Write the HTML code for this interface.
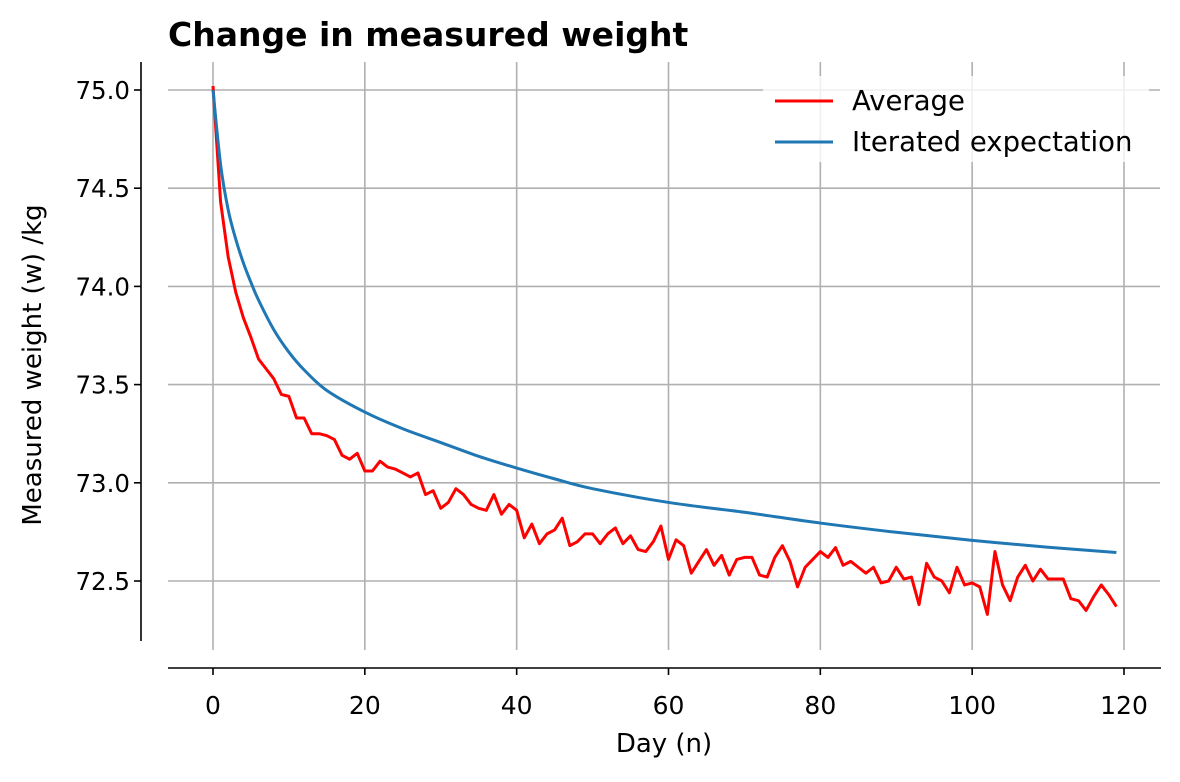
<!DOCTYPE html>
<html><head><meta charset="utf-8"><style>
body{margin:0;background:#fff;font-family:"Liberation Sans","DejaVu Sans",sans-serif}
svg text{font-family:"DejaVu Sans","Liberation Sans",sans-serif}
</style></head><body>
<svg id="chart" width="1180" height="777" viewBox="0 0 1180 777">
<text x="168" y="46" font-size="33" font-weight="bold">Change in measured weight</text>
<g id="grid"></g><g id="axes"></g><g id="series"></g>
<g>
<rect x="763" y="76" width="386" height="86" fill="#fff" opacity="0.8"/>
<line x1="775" y1="101" x2="833" y2="101" stroke="#ff0000" stroke-width="3"/>
<text x="852" y="110" font-size="27.5">Average</text>
<line x1="775" y1="142" x2="833" y2="142" stroke="#1f77b4" stroke-width="3"/>
<text x="852" y="151" font-size="27.5">Iterated expectation</text>
</g>
<text x="664" y="752" font-size="26" text-anchor="middle">Day (n)</text>
<text transform="translate(41,365) rotate(-90)" font-size="26" text-anchor="middle">Measured weight (w) /kg</text>
</svg>
<script>
const averageValues=[75.02,74.43,74.15,73.97,73.84,73.74,73.63,73.58,73.53,73.45,73.44,73.33,73.33,73.25,73.25,73.24,73.22,73.14,73.12,73.15,73.06,73.06,73.11,73.08,73.07,73.05,73.03,73.05,72.94,72.96,72.87,72.90,72.97,72.94,72.89,72.87,72.86,72.94,72.84,72.89,72.86,72.72,72.79,72.69,72.74,72.76,72.82,72.68,72.70,72.74,72.74,72.69,72.74,72.77,72.69,72.73,72.66,72.65,72.70,72.78,72.61,72.71,72.68,72.54,72.60,72.66,72.58,72.63,72.53,72.61,72.62,72.62,72.53,72.52,72.62,72.68,72.60,72.47,72.57,72.61,72.65,72.62,72.67,72.58,72.60,72.57,72.54,72.57,72.49,72.50,72.57,72.51,72.52,72.38,72.59,72.52,72.50,72.44,72.57,72.48,72.49,72.47,72.33,72.65,72.48,72.40,72.52,72.58,72.50,72.56,72.51,72.51,72.51,72.41,72.40,72.35,72.42,72.48,72.43,72.37];
const iterDays=[0,1,2,3,4,5,6,8,10,12,15,20,25,30,35,40,45,50,60,70,80,90,100,110,119];
const iterValues=[75.0,74.62,74.39,74.24,74.12,74.02,73.93,73.78,73.665,73.575,73.47,73.36,73.275,73.205,73.135,73.075,73.02,72.97,72.90,72.85,72.795,72.748,72.707,72.672,72.645];
const xTicks=[0,20,40,60,80,100,120];
const yTicks=[72.5,73.0,73.5,74.0,74.5,75.0];
const NS="http://www.w3.org/2000/svg";
const X=d=>213+d*(1124-213)/120;
const Y=v=>90+(75-v)*(581-90)/2.5;
function mk(tag,attrs,parent){const e=document.createElementNS(NS,tag);for(const k in attrs)e.setAttribute(k,attrs[k]);parent.appendChild(e);return e;}
const grid=document.getElementById('grid'),axes=document.getElementById('axes'),series=document.getElementById('series');
xTicks.forEach(t=>{
 const g=mk('line',{x1:X(t),x2:X(t),y1:62,y2:650,stroke:'#b0b0b0','stroke-width':1.6},grid);
 
 
 const tk=mk('line',{x1:X(t),x2:X(t),y1:668,y2:675,stroke:'#000','stroke-width':1.6},axes);
 
 
 const tx=mk('text',{x:X(t),y:714,'font-size':25,'text-anchor':'middle'},axes);tx.textContent=t;
 
 
});
yTicks.forEach(t=>{
 const g=mk('line',{x1:168,x2:1160,y1:Y(t),y2:Y(t),stroke:'#b0b0b0','stroke-width':1.6},grid);
 
 
 const tk=mk('line',{x1:134,x2:141,y1:Y(t),y2:Y(t),stroke:'#000','stroke-width':1.6},axes);
 
 
 const tx=mk('text',{x:130,y:Y(t)+9,'font-size':24.5,'text-anchor':'end'},axes);tx.textContent=t.toFixed(1);
 
 
});
const ya=mk('line',{x1:141,x2:141,y1:62,y2:641,stroke:'#000','stroke-width':1.6},axes);


const xa=mk('line',{x1:168,x2:1161,y1:668,y2:668,stroke:'#000','stroke-width':1.6},axes);


const avg=mk('polyline',{points:averageValues.map((v,i)=>X(i)+','+Y(v)).join(' '),fill:'none',stroke:'#ff0000','stroke-width':3,'stroke-linejoin':'round'},series);


const P=iterValues.map((v,i)=>[X(iterDays[i]),Y(v)]);
let d='M'+P[0][0]+','+P[0][1];
for(let i=0;i<P.length-1;i++){
 const p0=P[Math.max(0,i-1)],p1=P[i],p2=P[i+1],p3=P[Math.min(P.length-1,i+2)];
 const c1=[p1[0]+(p2[0]-p0[0])/6,p1[1]+(p2[1]-p0[1])/6];
 const c2=[p2[0]-(p3[0]-p1[0])/6,p2[1]-(p3[1]-p1[1])/6];
 d+=' C'+c1[0]+','+c1[1]+' '+c2[0]+','+c2[1]+' '+p2[0]+','+p2[1];
}
const it=mk('path',{d:d,fill:'none',stroke:'#1f77b4','stroke-width':3,'stroke-linejoin':'round'},series);


</script>
</body></html>
